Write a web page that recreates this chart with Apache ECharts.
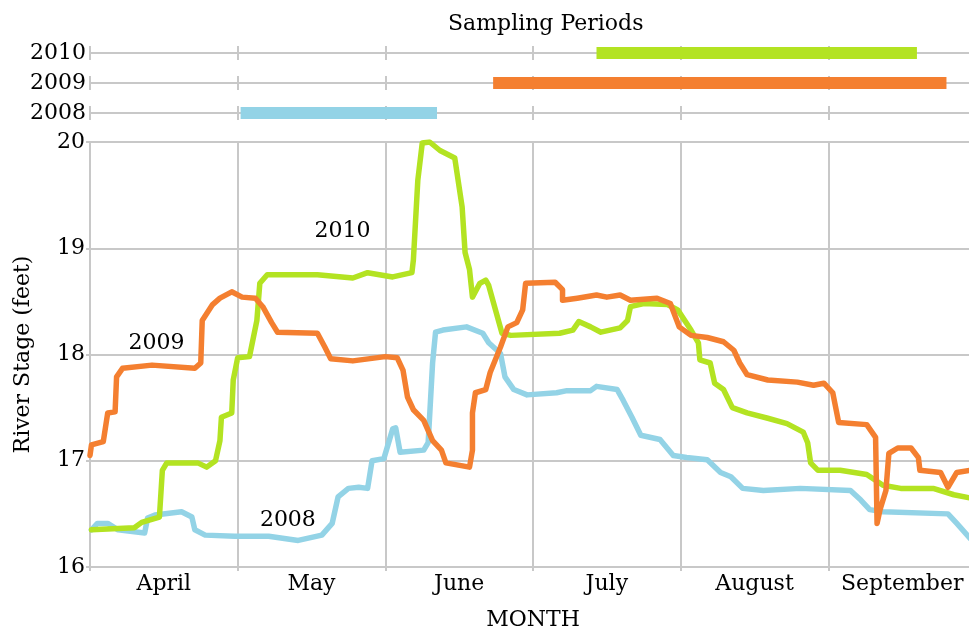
<!DOCTYPE html>
<html>
<head>
<meta charset="utf-8">
<script src="https://cdn.jsdelivr.net/npm/echarts@6/dist/echarts.min.js"></script>
<style>
  html, body { margin: 0; padding: 0; background: #fff; }
  #chart { width: 969px; height: 630px; }
</style>
</head>
<body>
<div id="chart"></div>
<script>
// x values are months after April 1 (0 = Apr 1, 1 = May 1, ...), y in feet
const months = ['April', 'May', 'June', 'July', 'August', 'September']
const years  = ['2008', '2009', '2010']

// sampling periods [start, end] per year, same month units
const sampling2008 = [1.02, 2.35]
const sampling2009 = [2.73, 5.80]
const sampling2010 = [3.43, 5.60]

const stage2008 = [
  [0.01, 16.35], [0.05, 16.41], [0.12, 16.41], [0.19, 16.35], [0.37, 16.32], [0.39, 16.46],
  [0.44, 16.49], [0.62, 16.52], [0.69, 16.47], [0.71, 16.35], [0.78, 16.30], [0.98, 16.29],
  [1.21, 16.29], [1.41, 16.25], [1.57, 16.30], [1.64, 16.41], [1.68, 16.66], [1.75, 16.74],
  [1.82, 16.75], [1.88, 16.74], [1.91, 17.00], [1.99, 17.02], [2.05, 17.30], [2.07, 17.31],
  [2.10, 17.08], [2.26, 17.10], [2.29, 17.17], [2.32, 17.92], [2.34, 18.21], [2.39, 18.23],
  [2.55, 18.26], [2.66, 18.20], [2.70, 18.11], [2.78, 18.01], [2.81, 17.79], [2.87, 17.67],
  [2.96, 17.62], [3.16, 17.64], [3.23, 17.66], [3.39, 17.66], [3.43, 17.70], [3.57, 17.67],
  [3.61, 17.57], [3.67, 17.41], [3.73, 17.24], [3.86, 17.20], [3.95, 17.05], [4.04, 17.03],
  [4.18, 17.01], [4.27, 16.89], [4.34, 16.85], [4.42, 16.74], [4.56, 16.72], [4.81, 16.74],
  [5.15, 16.72], [5.22, 16.63], [5.28, 16.54], [5.37, 16.52], [5.81, 16.50], [5.87, 16.41],
  [5.96, 16.27]
]

const stage2009 = [
  [0.00, 17.05], [0.01, 17.15], [0.09, 17.18], [0.12, 17.45], [0.17, 17.46], [0.18, 17.79],
  [0.22, 17.87], [0.42, 17.90], [0.71, 17.87], [0.75, 17.92], [0.76, 18.32], [0.83, 18.47],
  [0.88, 18.53], [0.96, 18.59], [1.03, 18.54], [1.12, 18.53], [1.17, 18.45], [1.23, 18.30],
  [1.27, 18.21], [1.54, 18.20], [1.59, 18.07], [1.63, 17.96], [1.78, 17.94], [2.00, 17.98],
  [2.08, 17.97], [2.12, 17.85], [2.15, 17.60], [2.19, 17.48], [2.26, 17.38], [2.32, 17.19],
  [2.38, 17.10], [2.41, 16.98], [2.57, 16.94], [2.59, 17.10], [2.59, 17.45], [2.61, 17.64],
  [2.68, 17.67], [2.71, 17.83], [2.78, 18.07], [2.83, 18.26], [2.89, 18.30], [2.93, 18.42],
  [2.95, 18.67], [3.15, 18.68], [3.20, 18.61], [3.20, 18.51], [3.30, 18.53], [3.43, 18.56],
  [3.50, 18.54], [3.59, 18.56], [3.66, 18.51], [3.84, 18.53], [3.93, 18.48], [3.99, 18.26],
  [4.07, 18.18], [4.18, 18.16], [4.29, 18.12], [4.36, 18.04], [4.40, 17.92], [4.45, 17.81],
  [4.59, 17.76], [4.79, 17.74], [4.90, 17.71], [4.97, 17.73], [5.03, 17.64], [5.07, 17.36],
  [5.26, 17.34], [5.32, 17.22], [5.33, 16.41], [5.35, 16.54], [5.39, 16.72], [5.41, 17.07],
  [5.47, 17.12], [5.56, 17.12], [5.61, 17.03], [5.62, 16.91], [5.76, 16.89], [5.81, 16.75],
  [5.87, 16.89], [5.96, 16.91]
]

const stage2010 = [
  [0.01, 16.35], [0.30, 16.37], [0.35, 16.42], [0.47, 16.47], [0.49, 16.91], [0.52, 16.98],
  [0.73, 16.98], [0.79, 16.94], [0.85, 17.00], [0.88, 17.19], [0.89, 17.41], [0.96, 17.45],
  [0.97, 17.76], [1.00, 17.97], [1.08, 17.98], [1.13, 18.32], [1.15, 18.67], [1.20, 18.75],
  [1.54, 18.75], [1.78, 18.72], [1.88, 18.77], [2.05, 18.73], [2.18, 18.77], [2.19, 18.89],
  [2.22, 19.64], [2.25, 19.99], [2.30, 20.00], [2.37, 19.92], [2.47, 19.85], [2.52, 19.39],
  [2.54, 18.96], [2.57, 18.80], [2.59, 18.54], [2.64, 18.67], [2.68, 18.70], [2.70, 18.65],
  [2.74, 18.45], [2.79, 18.20], [2.85, 18.18], [3.18, 18.20], [3.27, 18.23], [3.31, 18.31],
  [3.39, 18.26], [3.46, 18.21], [3.59, 18.25], [3.64, 18.32], [3.66, 18.45], [3.75, 18.48],
  [3.91, 18.47], [3.98, 18.42], [4.07, 18.23], [4.12, 18.11], [4.13, 17.95], [4.20, 17.92],
  [4.23, 17.73], [4.29, 17.67], [4.35, 17.50], [4.45, 17.45], [4.59, 17.40], [4.72, 17.35],
  [4.83, 17.27], [4.86, 17.17], [4.88, 16.98], [4.93, 16.91], [5.08, 16.91], [5.26, 16.87],
  [5.37, 16.77], [5.49, 16.74], [5.71, 16.74], [5.85, 16.68], [5.96, 16.65]
]

const color = { 2008: '#93d3e6', 2009: '#f47f30', 2010: '#b3e322' }
const grey  = '#c8c8c8'
const font  = 'DejaVu Serif'

// where the year tags sit inside the plot
const tagAt = { 2008: [1.34, 16.44], 2009: [0.45, 18.11], 2010: [1.71, 19.16] }

const chart = echarts.init(document.getElementById('chart'))

const stageSeries = (year, data) => ({
  name: year,
  type: 'line',
  xAxisIndex: 0,
  yAxisIndex: 0,
  data,
  symbol: 'none',
  lineStyle: { width: 5.5, color: color[year], join: 'round', cap: 'round' },
  z: 3,
  markPoint: {
    symbol: 'circle',
    symbolSize: 1,
    itemStyle: { color: 'transparent' },
    label: { show: true, position: 'inside', formatter: year, color: '#000', fontFamily: font, fontSize: 22 },
    data: [{ coord: tagAt[year] }]
  }
})

const periodSeries = (year, span) => ({
  name: 'sampling ' + year,
  type: 'line',
  xAxisIndex: 2,
  yAxisIndex: 1,
  data: [[span[0], years.indexOf(year)], [span[1], years.indexOf(year)]],
  symbol: 'none',
  lineStyle: { width: 12, color: color[year], cap: 'butt' },
  z: 3
})

chart.setOption({
  animation: false,
  textStyle: { fontFamily: font, color: '#000' },
  title: {
    text: 'Sampling Periods',
    left: 443,
    top: 8,
    textStyle: { fontFamily: font, fontSize: 22, fontWeight: 'normal', color: '#000' }
  },
  grid: [
    { left: 90, top: 142, width: 886, height: 425, outerBoundsMode: 'none', containLabel: false },  // river stage
    { left: 90, top: 53, width: 886, height: 60, outerBoundsMode: 'none', containLabel: false },    // sampling rows
    { left: 90, top: 38, width: 886, height: 90, outerBoundsMode: 'none', containLabel: false }     // short month ticks on rows
  ],
  xAxis: [{
    gridIndex: 0,
    type: 'value',
    min: 0,
    max: 6,
    interval: 1,
    name: 'MONTH',
    nameLocation: 'middle',
    nameGap: 42,
    nameTextStyle: { fontFamily: font, fontSize: 22, color: '#000' },
    axisLine: { lineStyle: { color: grey, width: 2 } },
    axisTick: { show: true, length: 4, lineStyle: { color: grey, width: 2 } },
    axisLabel: { show: false },
    splitLine: { show: true, lineStyle: { color: grey, width: 2 } }
  }, {
    gridIndex: 0,
    type: 'category',
    data: months,
    position: 'bottom',
    axisLine: { show: false },
    axisTick: { show: false },
    axisLabel: { interval: 0, margin: 6, fontFamily: font, fontSize: 22, color: '#000' },
    splitLine: { show: false }
  }, {
    gridIndex: 1,
    type: 'value',
    min: 0,
    max: 6,
    show: false
  }, {
    gridIndex: 2,
    type: 'value',
    min: 0,
    max: 6,
    interval: 1,
    axisLine: { show: false },
    axisTick: { show: false },
    axisLabel: { show: false },
    splitLine: { show: true, lineStyle: { color: grey, width: 2, type: [14, 16], dashOffset: 22 } }
  }],
  yAxis: [{
    gridIndex: 0,
    type: 'value',
    min: 16,
    max: 20,
    interval: 1,
    name: 'River Stage (feet)',
    nameLocation: 'middle',
    nameGap: 56,
    nameTextStyle: { fontFamily: font, fontSize: 22, color: '#000' },
    axisLine: { show: true, lineStyle: { color: grey, width: 2 } },
    axisTick: { show: true, length: 4, lineStyle: { color: grey, width: 2 } },
    axisLabel: { margin: 5, fontFamily: font, fontSize: 22, color: '#000' },
    splitLine: { show: true, lineStyle: { color: grey, width: 2 } }
  }, {
    gridIndex: 1,
    type: 'value',
    min: 0,
    max: 2,
    interval: 1,
    axisLine: { show: false },
    axisTick: { show: false },
    axisLabel: { margin: 4, fontFamily: font, fontSize: 22, color: '#000', formatter: v => years[v] },
    splitLine: { show: true, lineStyle: { color: grey, width: 2 } }
  }, {
    gridIndex: 2,
    type: 'value',
    min: 0,
    max: 1,
    show: false
  }],
  series: [
    periodSeries('2008', sampling2008),
    periodSeries('2009', sampling2009),
    periodSeries('2010', sampling2010),
    stageSeries('2008', stage2008),
    stageSeries('2010', stage2010),
    stageSeries('2009', stage2009)
  ]
})
</script>
</body>
</html>
